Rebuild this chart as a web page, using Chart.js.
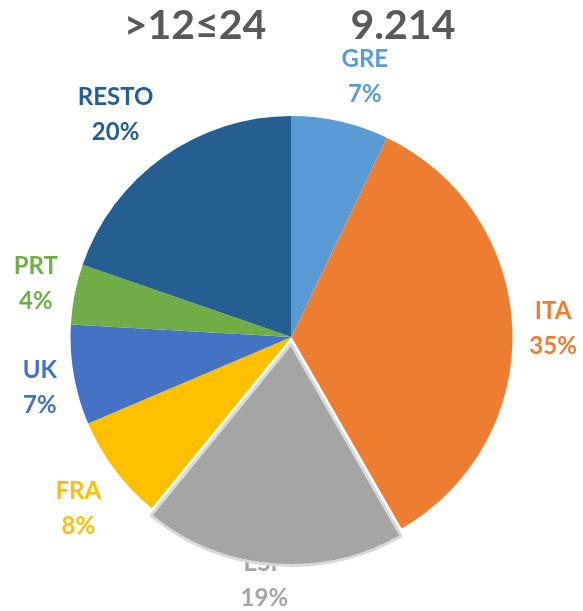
<!DOCTYPE html>
<html>
<head>
<meta charset="utf-8">
<script src="https://cdn.jsdelivr.net/npm/chart.js@4"></script>
<style>
    body { margin: 0; background: #ffffff; }
    #box { width: 583px; height: 611px; position: relative; }
</style>
</head>
<body>
<div id="box"><canvas id="pie"></canvas></div>
<script>
// data (share of the 9.214 total, in %)
const countries = ['GRE', 'ITA', 'ESP', 'FRA', 'UK', 'PRT', 'RESTO']
const shares = [7.1, 34.6, 19.2, 7.7, 7.3, 4.4, 19.7]
const sliceColors = ['#5B9BD5', '#ED7D31', '#A5A5A5', '#FFC000', '#4472C4', '#70AD47', '#255E91']
const exploded = 'ESP'
const titleLeft = '>12≤24'
const titleRight = '9.214'

const labelFont = 'bold 24px Lato'
const lineGap = 35

const clamp = (v, lo, hi) => Math.max(lo, Math.min(hi, v))

// titles at the top
const titlePlugin = {
    id: 'titles',
    afterDraw(chart) {
        const ctx = chart.ctx
        ctx.save()
        ctx.font = 'bold 41px Lato'
        ctx.fillStyle = '#595959'
        ctx.textAlign = 'center'
        ctx.textBaseline = 'middle'
        ctx.fillText(titleLeft, 195, 26)
        ctx.fillText(titleRight, 403, 26)
        ctx.restore()
    }
}

// outside labels, drawn before the slices so the exploded slice can hide part of one
const labelPlugin = {
    id: 'outsideLabels',
    beforeDatasetsDraw(chart) {
        const ctx = chart.ctx
        const meta = chart.getDatasetMeta(0)
        const total = shares.reduce((a, b) => a + b, 0)
        ctx.save()
        ctx.font = labelFont
        ctx.textAlign = 'center'
        ctx.textBaseline = 'middle'
        meta.data.forEach((arc, i) => {
            const pct = Math.round(shares[i] / total * 100) + '%'
            const lines = [countries[i], pct]
            const hw = Math.max(...lines.map(t => ctx.measureText(t).width)) / 2
            const hh = 30
            const mid = (arc.startAngle + arc.endAngle) / 2
            const c = Math.cos(mid), s = Math.sin(mid)
            const dist = arc.outerRadius + 17
            let x = arc.x + c * dist + hw * clamp(c * 4, -1, 1)
            let y = arc.y + s * dist + hh * clamp(s * 1.5, -1, 1) + 2
            y = Math.min(y, chart.height - hh)
            ctx.fillStyle = sliceColors[i]
            ctx.fillText(lines[0], x, y - lineGap / 2)
            ctx.fillText(lines[1], x, y + lineGap / 2)
        })
        ctx.restore()
    }
}

new Chart(document.getElementById('pie'), {
    type: 'pie',
    data: {
        labels: countries,
        datasets: [{
            data: shares,
            backgroundColor: sliceColors,
            borderColor: countries.map(c => c == exploded ? '#D9D9D9' : 'rgba(0,0,0,0)'),
            borderWidth: countries.map(c => c == exploded ? 3 : 0),
            offset: countries.map(c => c == exploded ? 28 : 0)
        }]
    },
    options: {
        responsive: true,
        maintainAspectRatio: false,
        animation: false,
        events: [],
        radius: 221,
        layout: { padding: { top: 63, bottom: 0, left: 0, right: 0 } },
        plugins: {
            legend: { display: false },
            tooltip: { enabled: false },
            title: { display: false }
        }
    },
    plugins: [labelPlugin, titlePlugin]
});
</script>
</body>
</html>
